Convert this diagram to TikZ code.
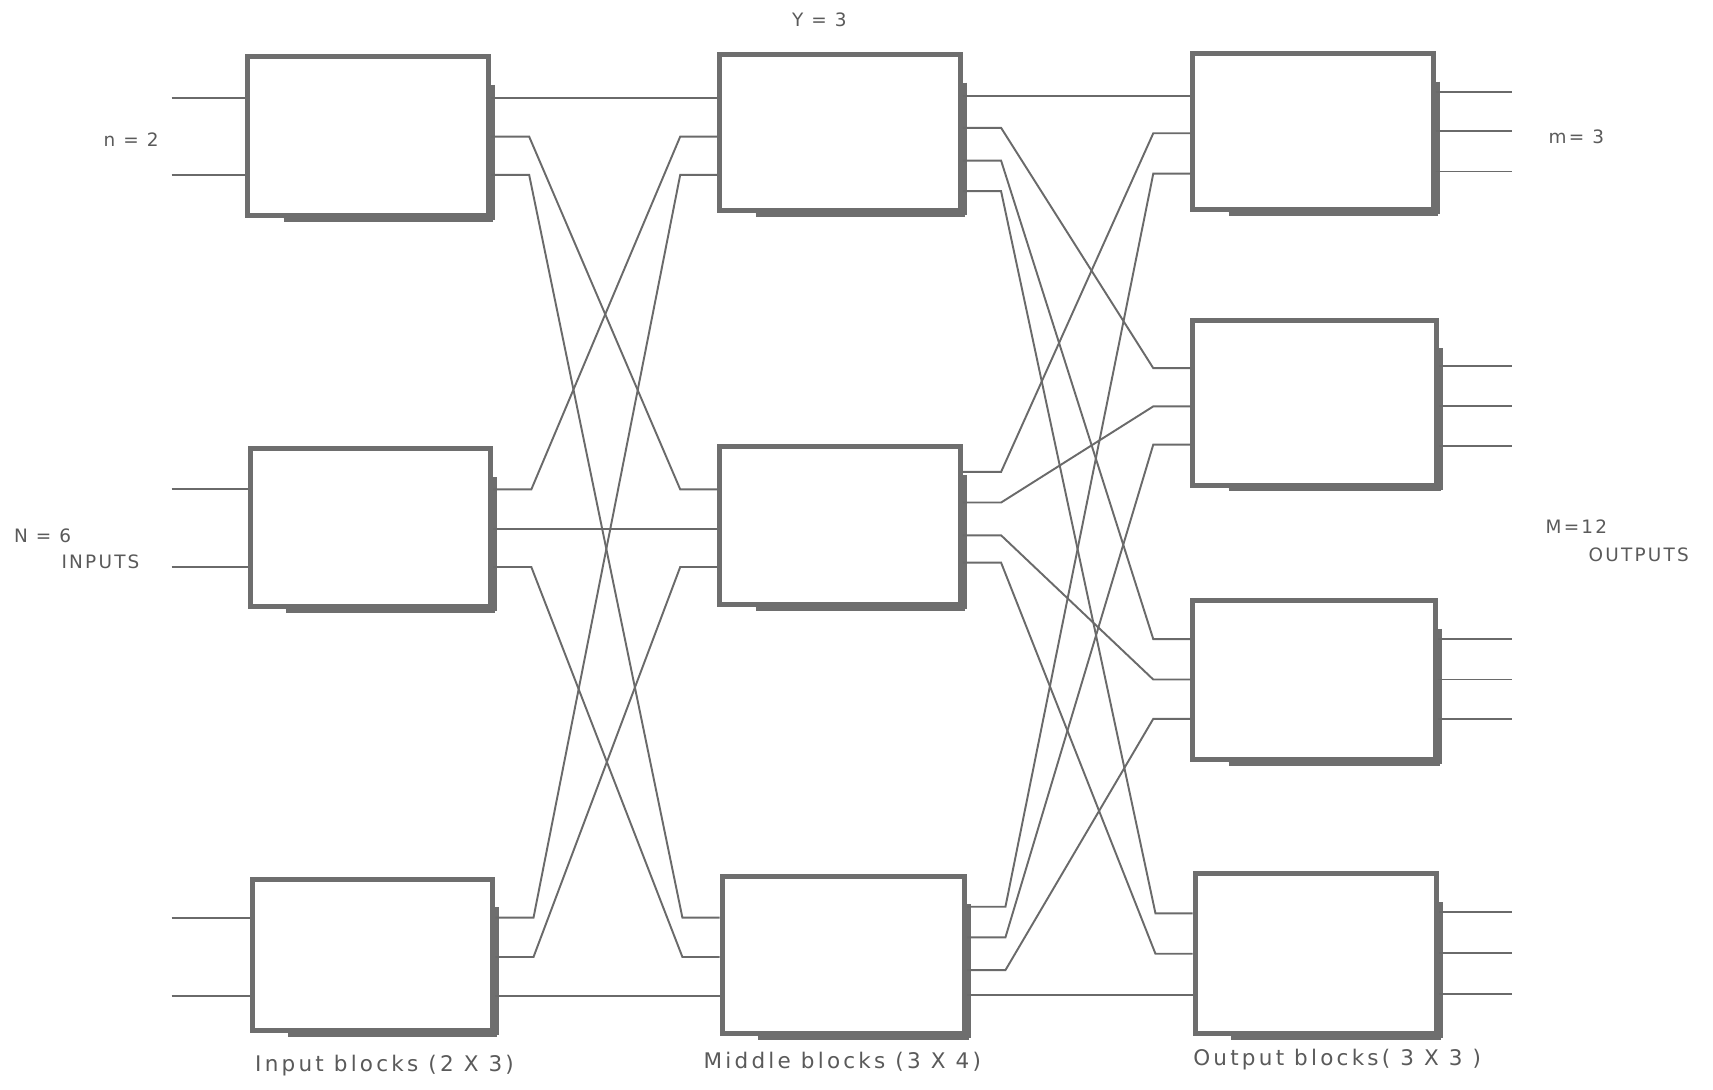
\documentclass[tikz,border=0pt]{standalone}
\usepackage{fontspec}
\setmainfont{DejaVu Sans}
\usetikzlibrary{calc}
\definecolor{Ink}{HTML}{6E6E6E}
\definecolor{Wire}{HTML}{6A6A6A}
\definecolor{Label}{HTML}{5A5A5A}

\tikzset{
  blk/.style={draw=Ink,line width=1.3pt,inner sep=0pt,minimum width=2.2cm},
  blkedge/.style={draw=Ink,line width=1pt},
  wire/.style={draw=Wire,line width=0.5pt},
  lbl/.style={text=Label,inner sep=0pt,font=\fontsize{4.8}{5.8}\selectfont\addfontfeatures{LetterSpace=12}},
  captxt/.style={text=Label,inner sep=0pt,font=\fontsize{5.6}{6.5}\selectfont\addfontfeatures{LetterSpace=15}},
}

\begin{document}
\begin{tikzpicture}[x=0.01cm,y=-0.01cm]
  \fill[white] (0,0) rectangle (1568,997);
  \useasboundingbox (0,0) rectangle (1568,997);

  % blocks
  \node[blk,minimum height=1.45cm] (I1) at (337,124.5) {};
  \node[blk,minimum height=1.44cm] (I2) at (339,483) {};
  \node[blk,minimum height=1.38cm] (I3) at (341,874) {};
  \node[blk,minimum height=1.43cm] (M1) at (769,121.5) {};
  \node[blk,minimum height=1.44cm] (M2) at (769,481) {};
  \node[blk,minimum height=1.44cm,minimum width=2.22cm] (M3) at (772,874) {};
  \node[blk,minimum height=1.43cm] (O1) at (1202,120.5) {};
  \node[blk,minimum height=1.51cm,minimum width=2.23cm] (O2) at (1203.5,368.5) {};
  \node[blk,minimum height=1.45cm,minimum width=2.22cm] (O3) at (1203,622.5) {};
  \node[blk,minimum height=1.46cm,minimum width=2.21cm] (O4) at (1204.5,873) {};
  \foreach \b in {I1,I2,I3,M1,M2,M3,O1,O2,O3,O4}{
    \draw[blkedge] ($(\b.north east)+(1.8,28)$) -- ($(\b.south east)+(1.8,1.8)$);
    \draw[blkedge] ($(\b.south west)+(35,1.8)$) -- ($(\b.south east)+(1.8,1.8)$);
  }

  % ports
  \foreach \y [count=\k] in {90,160} \coordinate (I1i\k) at (I1.west |- 0,\y);
  \foreach \y [count=\k] in {448,519} \coordinate (I2i\k) at (I2.west |- 0,\y);
  \foreach \y [count=\k] in {840,912} \coordinate (I3i\k) at (I3.west |- 0,\y);
  \foreach \y [count=\k] in {90,125,160} \coordinate (I1o\k) at (I1.east |- 0,\y);
  \foreach \y [count=\k] in {448,484,519} \coordinate (I2o\k) at (I2.east |- 0,\y);
  \foreach \y [count=\k] in {840,876,912} \coordinate (I3o\k) at (I3.east |- 0,\y);
  \foreach \y [count=\k] in {90,125,160} \coordinate (M1i\k) at (M1.west |- 0,\y);
  \foreach \y [count=\k] in {448,484,519} \coordinate (M2i\k) at (M2.west |- 0,\y);
  \foreach \y [count=\k] in {840,876,912} \coordinate (M3i\k) at (M3.west |- 0,\y);
  \foreach \y [count=\k] in {88,117,147,175} \coordinate (M1o\k) at (M1.east |- 0,\y);
  \foreach \y [count=\k] in {432,460,490,515} \coordinate (M2o\k) at (M2.east |- 0,\y);
  \foreach \y [count=\k] in {830,858,888,911} \coordinate (M3o\k) at (M3.east |- 0,\y);
  \foreach \y [count=\k] in {88,122,159} \coordinate (O1i\k) at (O1.west |- 0,\y);
  \foreach \y [count=\k] in {337,372,407} \coordinate (O2i\k) at (O2.west |- 0,\y);
  \foreach \y [count=\k] in {585,622,658} \coordinate (O3i\k) at (O3.west |- 0,\y);
  \foreach \y [count=\k] in {836,873,911} \coordinate (O4i\k) at (O4.west |- 0,\y);
  \foreach \y [count=\k] in {84,120,157} \coordinate (O1o\k) at (O1.east |- 0,\y);
  \foreach \y [count=\k] in {335,372,408} \coordinate (O2o\k) at (O2.east |- 0,\y);
  \foreach \y [count=\k] in {585,622,658} \coordinate (O3o\k) at (O3.east |- 0,\y);
  \foreach \y [count=\k] in {835,872,910} \coordinate (O4o\k) at (O4.east |- 0,\y);

  % free ends
  \foreach \y [count=\k] in {90,160,448,519,840,912} \coordinate (src\k) at (157,\y);
  \foreach \y [count=\k] in {84,120,157,335,372,408,585,622,658,835,872,910} \coordinate (dst\k) at (1384,\y);

  % inputs and outputs
  \foreach \s/\t in {src1/I1i1,src2/I1i2,src3/I2i1,src4/I2i2,src5/I3i1,src6/I3i2}
    \draw[wire] (\s) -- (\t);
  \foreach \s/\t in {O1o1/dst1,O1o2/dst2,O1o3/dst3,O2o1/dst4,O2o2/dst5,O2o3/dst6,
                     O3o1/dst7,O3o2/dst8,O3o3/dst9,O4o1/dst10,O4o2/dst11,O4o3/dst12}
    \draw[wire] (\s) -- (\t);

  % input -> middle
  \foreach \a/\b in {I1o1/M1i1,I2o2/M2i2,I3o3/M3i3}
    \draw[wire] (\a) -- (\b);
  \foreach \a/\b in {I1o2/M2i1,I1o3/M3i1,I2o1/M1i2,I2o3/M3i2,I3o1/M1i3,I3o2/M2i3}
    \draw[wire] (\a) -- ++(35,0) -- ($(\b)+(-34,0)$) -- (\b);

  % middle -> output
  \foreach \a/\b in {M1o1/O1i1,M3o4/O4i3}
    \draw[wire] (\a) -- (\b);
  \foreach \a/\b in {M1o2/O2i1,M1o3/O3i1,M1o4/O4i1,M2o1/O1i2,M2o2/O2i2,M2o3/O3i2,M2o4/O4i2,
                     M3o1/O1i3,M3o2/O2i3,M3o3/O3i3}
    \draw[wire] (\a) -- ++(35,0) -- ($(\b)+(-34,0)$) -- (\b);

  % labels
  \node[lbl] (lblY) at (750,18) {Y = 3};
  \node[lbl] (lbln) at (120,128) {n = 2};
  \node[lbl] (lblN) at (39,490) {N = 6};
  \node[lbl] (lblIn) at (92,514) {INPUTS};
  \node[lbl] (lblm) at (1443,125) {m= 3};
  \node[lbl] (lblM) at (1443,482) {M=12};
  \node[lbl] (lblOut) at (1500,508) {OUTPUTS};
  \node[captxt] (capI) at (352,975) {Input blocks (2 X 3)};
  \node[captxt] (capM) at (771,972) {Middle blocks (3 X 4)};
  \node[captxt] (capO) at (1224,970) {Output blocks( 3 X 3 )};
\end{tikzpicture}
\end{document}
